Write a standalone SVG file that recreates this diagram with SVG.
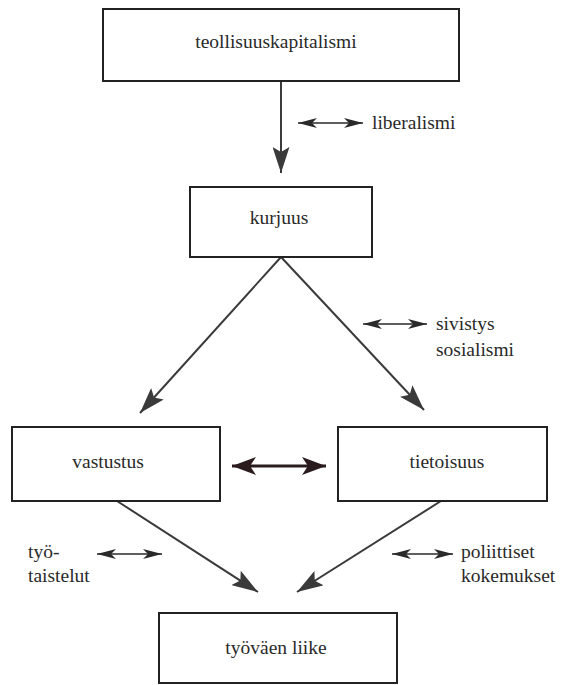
<svg xmlns="http://www.w3.org/2000/svg" width="562" height="685" viewBox="0 0 562 685" font-family="Liberation Serif, Times New Roman, serif" font-size="19.5">
<style>
.box{fill:#ffffff;stroke:#222;stroke-width:2}
text{font-family:"Liberation Serif","Times New Roman",serif;font-size:19.5px;fill:#2a2a2a}
.c{text-anchor:middle}
.ln{stroke:#3a3a3a;stroke-width:2;fill:none}
.dbl{stroke:#2a2a2a;stroke-width:1.5;fill:none}
.mid{stroke:#2a1c1c;stroke-width:3;fill:none}
</style>
<defs>
<marker id="big" markerUnits="userSpaceOnUse" markerWidth="27" markerHeight="17" refX="26" refY="8.5" orient="auto">
<path d="M0,0 L26,8.5 L0,17 L5,8.5 z" fill="#3a3a3a"/>
</marker>
<marker id="sm" markerUnits="userSpaceOnUse" markerWidth="20" markerHeight="10" refX="19" refY="5" orient="auto-start-reverse">
<path d="M0,0 L19,5 L0,10 L5,5 z" fill="#2a2a2a"/>
</marker>
<marker id="md" markerUnits="userSpaceOnUse" markerWidth="25" markerHeight="18" refX="24" refY="9" orient="auto-start-reverse">
<path d="M0,0 L24,9 L0,18 L6,9 z" fill="#2a1c1c"/>
</marker>
</defs>
<rect width="562" height="685" fill="#ffffff"/>
<g id="connectors">
<line class="ln" x1="281" y1="81" x2="281" y2="173" marker-end="url(#big)"/>
<line class="ln" x1="281" y1="257" x2="140" y2="413" marker-end="url(#big)"/>
<line class="ln" x1="281" y1="257" x2="424" y2="410" marker-end="url(#big)"/>
<line class="ln" x1="117" y1="501" x2="258" y2="592" marker-end="url(#big)"/>
<line class="ln" x1="441" y1="501" x2="297" y2="592" marker-end="url(#big)"/>
<line class="dbl" x1="298" y1="123" x2="363" y2="123" marker-start="url(#sm)" marker-end="url(#sm)"/>
<line class="dbl" x1="363" y1="324" x2="427" y2="324" marker-start="url(#sm)" marker-end="url(#sm)"/>
<line class="mid" x1="232" y1="466" x2="326" y2="466" marker-start="url(#md)" marker-end="url(#md)"/>
<line class="dbl" x1="97" y1="554" x2="162" y2="554" marker-start="url(#sm)" marker-end="url(#sm)"/>
<line class="dbl" x1="392" y1="554" x2="453" y2="554" marker-start="url(#sm)" marker-end="url(#sm)"/>
</g>
<g id="labels">
<text x="372" y="129">liberalismi</text>
<text x="436" y="330">sivistys</text>
<text x="436" y="356">sosialismi</text>
<text x="28" y="558">työ-</text>
<text x="28" y="582">taistelut</text>
<text x="461" y="558">poliittiset</text>
<text x="461" y="582">kokemukset</text>
</g>
<g id="teollisuuskapitalismi">
<rect class="box" x="103" y="9" width="356" height="72"/>
<text class="c" x="276" y="48">teollisuuskapitalismi</text>
</g>
<g id="kurjuus">
<rect class="box" x="190" y="187" width="182" height="70"/>
<text class="c" x="279" y="224">kurjuus</text>
</g>
<g id="vastustus">
<rect class="box" x="12" y="427" width="208" height="74"/>
<text class="c" x="108" y="468">vastustus</text>
</g>
<g id="tietoisuus">
<rect class="box" x="338" y="427" width="209" height="74"/>
<text class="c" x="447" y="468">tietoisuus</text>
</g>
<g id="tyovaen-liike">
<rect class="box" x="159" y="613" width="238" height="70"/>
<text class="c" x="276" y="654">työväen liike</text>
</g>
</svg>
